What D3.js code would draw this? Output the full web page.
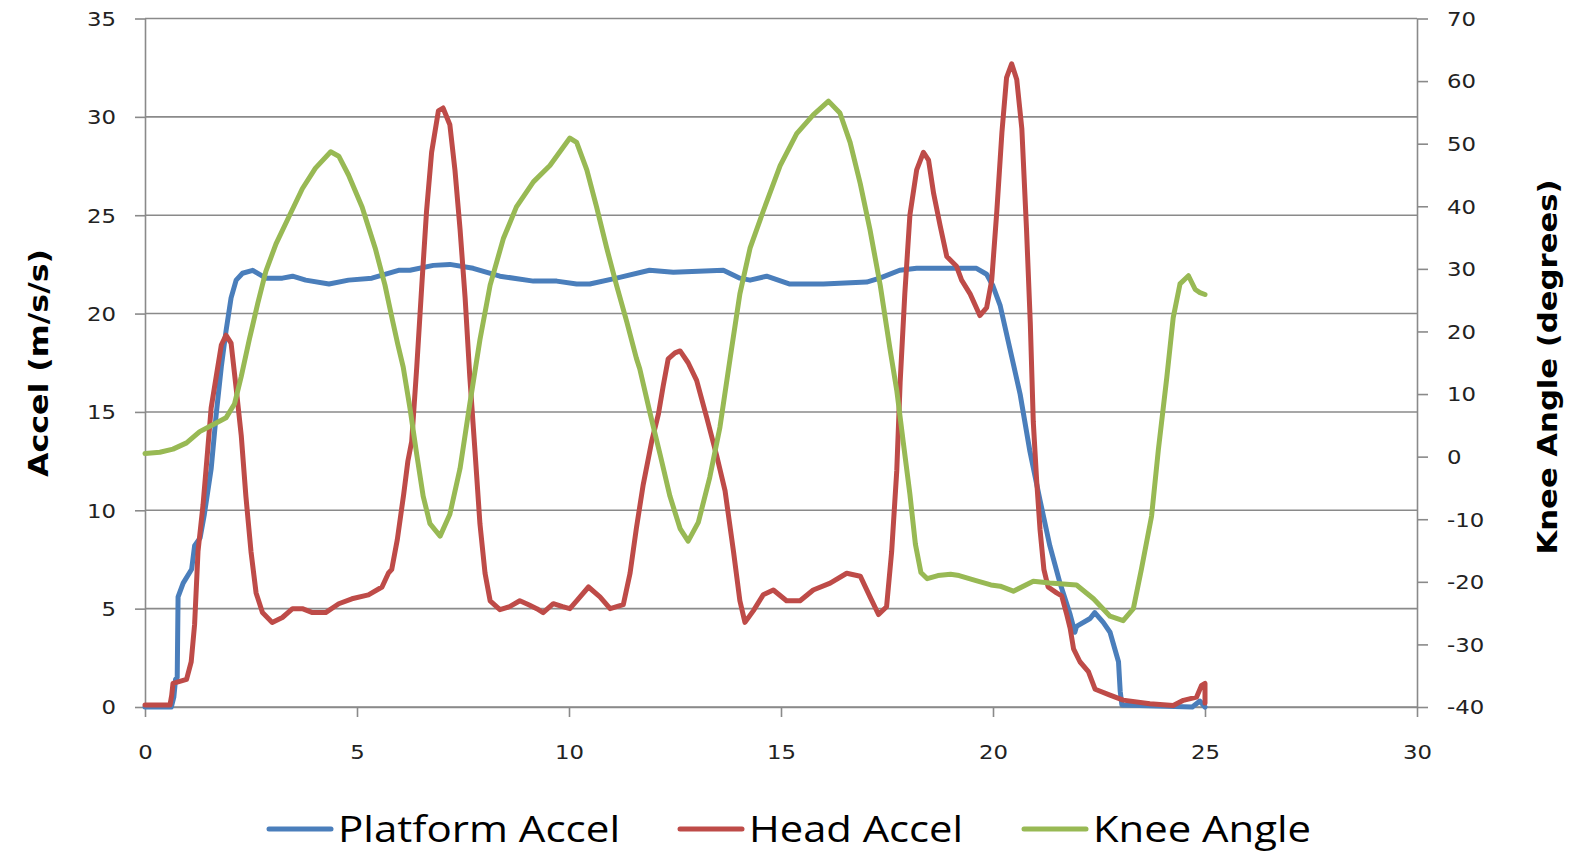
<!DOCTYPE html>
<html><head><meta charset="utf-8">
<script src="https://cdn.jsdelivr.net/npm/d3@7"></script>
<style>
html,body{margin:0;padding:0;background:#fff;}
svg{display:block;}
</style></head>
<body>
<svg id="chart" width="1575" height="852"></svg>
<script>
// ---- DATA ----
const xTicks = [0,5,10,15,20,25,30];
const yLeftTicks = [0,5,10,15,20,25,30,35];
const yRightTicks = [-40,-30,-20,-10,0,10,20,30,40,50,60,70];
const seriesNames = ["Platform Accel","Head Accel","Knee Angle"];
const seriesColors = ["#4A7EBB","#BE4B48","#98B954"];

const platformT = [0,0.62,0.68,0.72,0.76,0.78,0.9,1.1,1.17,1.3,1.4,1.56,1.68,1.8,1.91,2.03,2.15,2.3,2.54,2.85,3.24,3.48,3.79,4.34,4.8,5.35,5.98,6.25,6.8,7.19,7.74,8.37,9.16,9.71,10.18,10.49,11.12,11.9,12.46,13.64,14.03,14.27,14.66,15.21,16.0,17.02,17.33,17.8,18.2,19.14,19.61,19.85,20.0,20.17,20.4,20.64,20.87,21.11,21.34,21.58,21.82,21.93,21.97,22.29,22.4,22.6,22.76,22.96,23.0,23.04,24.7,24.88,25.0];
const platformV = [0,0,0.5,1.4,1.5,5.6,6.3,7.0,8.2,8.6,9.8,12.1,14.9,17.3,19.1,20.8,21.7,22.05,22.2,21.8,21.8,21.9,21.7,21.5,21.7,21.8,22.2,22.2,22.45,22.5,22.3,21.9,21.65,21.65,21.5,21.5,21.8,22.2,22.1,22.2,21.8,21.7,21.9,21.5,21.5,21.6,21.8,22.2,22.3,22.3,22.3,22.0,21.4,20.4,18.2,15.9,13.0,10.5,8.2,6.3,4.7,3.8,4.1,4.5,4.8,4.3,3.8,2.3,0.8,0.1,0,0.3,0];

const headT = [0,0.59,0.63,0.66,0.98,1.09,1.17,1.25,1.37,1.48,1.56,1.68,1.8,1.91,2.03,2.15,2.27,2.38,2.5,2.62,2.77,3.0,3.24,3.48,3.71,3.95,4.26,4.57,4.88,5.27,5.59,5.74,5.82,5.95,6.1,6.2,6.29,6.41,6.53,6.64,6.76,6.92,7.03,7.19,7.31,7.43,7.55,7.66,7.78,7.9,8.02,8.14,8.37,8.6,8.84,9.05,9.24,9.39,9.63,9.85,10.02,10.18,10.46,10.73,10.97,11.28,11.44,11.59,11.75,11.95,12.11,12.22,12.34,12.5,12.62,12.81,13.01,13.25,13.48,13.68,13.88,14.03,14.15,14.35,14.58,14.82,15.13,15.45,15.76,16.16,16.55,16.87,17.1,17.3,17.49,17.61,17.73,17.81,17.92,18.04,18.2,18.36,18.48,18.6,18.75,18.91,19.14,19.26,19.46,19.69,19.85,19.97,20.09,20.21,20.32,20.44,20.56,20.68,20.79,20.88,20.95,21.03,21.11,21.2,21.3,21.5,21.62,21.74,21.82,21.9,22.05,22.25,22.41,22.76,23.07,23.7,24.25,24.49,24.8,24.92,25.0,25.0];
const headV = [0.1,0.1,0.6,1.2,1.4,2.3,4.2,7.9,10.3,13.1,15.2,16.8,18.4,18.9,18.5,16.2,13.8,10.7,7.9,5.8,4.8,4.3,4.55,5.0,5.0,4.8,4.8,5.25,5.5,5.7,6.1,6.8,7.0,8.5,10.8,12.5,13.5,17.3,21.5,25.2,28.2,30.3,30.45,29.6,27.3,24.3,20.8,16.8,13.1,9.3,6.8,5.4,4.95,5.1,5.4,5.2,5.0,4.8,5.25,5.1,5.0,5.4,6.1,5.6,5.0,5.2,6.8,9.1,11.3,13.5,14.9,16.3,17.7,18.0,18.1,17.5,16.6,14.7,12.8,11.0,7.9,5.4,4.3,4.9,5.7,5.95,5.4,5.4,5.95,6.3,6.8,6.65,5.6,4.7,5.1,7.9,12.0,16.5,21.0,25.0,27.3,28.2,27.8,26.1,24.5,22.9,22.4,21.7,21.0,19.9,20.3,21.7,25.2,29.2,32.0,32.7,31.9,29.4,24.3,19.5,14.5,11.5,9.0,7.0,6.1,5.8,5.65,4.7,4.0,2.95,2.3,1.8,0.9,0.6,0.35,0.17,0.08,0.34,0.5,1.1,1.2,0.2];

const kneeT = [0,0.35,0.66,0.98,1.29,1.6,1.91,2.11,2.27,2.46,2.66,2.85,3.09,3.4,3.71,4.02,4.38,4.57,4.8,5.12,5.43,5.66,5.82,5.96,6.09,6.25,6.41,6.56,6.72,6.96,7.19,7.43,7.66,7.9,8.14,8.45,8.76,9.16,9.55,10.02,10.18,10.42,10.65,10.89,11.12,11.36,11.59,11.67,11.91,12.15,12.38,12.62,12.81,13.05,13.32,13.56,13.8,14.03,14.27,14.58,14.98,15.37,15.76,16.12,16.39,16.63,16.87,17.1,17.34,17.57,17.73,17.88,18.04,18.17,18.3,18.45,18.7,19.0,19.2,19.6,19.95,20.17,20.48,20.95,21.34,21.97,22.37,22.76,23.07,23.31,23.5,23.74,23.9,24.1,24.25,24.41,24.61,24.77,24.88,25.0];
const kneeA = [0.5,0.7,1.2,2.2,4.0,5.1,6.2,8.4,12.8,18.7,24.5,29.6,34.0,38.4,42.8,46.1,48.7,48.0,45.0,39.9,33.3,27.4,22.3,18.0,14.3,7.7,0.3,-6.3,-10.7,-12.7,-9.2,-1.9,8.4,18.7,27.4,34.8,39.9,43.9,46.5,50.9,50.2,45.8,39.9,33.3,27.4,21.6,15.7,14.0,7.0,0.3,-6.3,-11.5,-13.5,-10.5,-3.3,4.7,15.7,26.0,33.3,39.2,46.5,51.6,54.6,56.8,54.9,50.2,43.6,36.2,27.4,17.2,10.6,2.5,-6,-14,-18.5,-19.5,-19.0,-18.8,-19.0,-19.8,-20.5,-20.7,-21.5,-19.9,-20.2,-20.5,-22.7,-25.5,-26.2,-24.3,-18,-9.5,1.1,12.7,22.2,27.6,28.9,26.7,26.2,25.9];

// ---- LAYOUT ----
const L = 145, R = 1417, T = 18.5, B = 707;
const svg = d3.select("#chart");
const x = d3.scaleLinear().domain([0,30]).range([L,R]);
const yL = d3.scaleLinear().domain([0,35]).range([B,T]);
const yR = d3.scaleLinear().domain([-40,70]).range([B,T]);
const gridColor = "#8a8a8a";
const labelFont = "'DejaVu Sans', Verdana, sans-serif";
const sx = 1.2;
const fmt = d => String(d);

// gridlines
svg.append("g").selectAll("line").data(yLeftTicks).join("line")
  .attr("x1", L).attr("x2", R).attr("y1", d=>yL(d)).attr("y2", d=>yL(d))
  .attr("stroke", gridColor).attr("stroke-width", 1.6);

function styleAxis(g){
  g.select(".domain").attr("stroke", gridColor).attr("stroke-width", 1.6);
  g.selectAll(".tick line").attr("stroke", gridColor).attr("stroke-width", 1.6);
  g.selectAll("text").attr("font-family", labelFont).attr("font-size", 19).attr("fill", "#222");
}

// left axis
const gL = svg.append("g").attr("transform", `translate(${L},0)`)
  .call(d3.axisLeft(yL).tickValues(yLeftTicks).tickFormat(fmt).tickSize(10).tickSizeOuter(0).tickPadding(0));
styleAxis(gL);
gL.selectAll(".tick text").attr("x", 0).attr("dy", "0.36em").attr("text-anchor","end")
  .attr("transform", `translate(-29,0) scale(${sx},1)`);

// right axis
const gR = svg.append("g").attr("transform", `translate(${R},0)`)
  .call(d3.axisRight(yR).tickValues(yRightTicks).tickFormat(fmt).tickSize(11).tickSizeOuter(0).tickPadding(0));
styleAxis(gR);
gR.selectAll(".tick text").attr("x", 0).attr("dy", "0.36em").attr("text-anchor","start")
  .attr("transform", `translate(30,0) scale(${sx},1)`);

// bottom axis
const gB = svg.append("g").attr("transform", `translate(0,${B})`)
  .call(d3.axisBottom(x).tickValues(xTicks).tickFormat(fmt).tickSize(10).tickSizeOuter(0).tickPadding(0));
styleAxis(gB);
gB.selectAll(".tick text").attr("y", 0).attr("dy", "0.36em").attr("text-anchor","middle")
  .attr("transform", `translate(0,45) scale(${sx},1)`);

// series
const platform = platformT.map((t,i)=>[t, platformV[i]]);
const head = headT.map((t,i)=>[t, headV[i]]);
const knee = kneeT.map((t,i)=>[t, kneeA[i]]);
const lineL = d3.line().x(d=>x(d[0])).y(d=>yL(d[1]));
const lineR = d3.line().x(d=>x(d[0])).y(d=>yR(d[1]));
const seriesPaths = [lineL(platform), lineL(head), lineR(knee)];
svg.append("g").selectAll("path").data(seriesPaths).join("path")
  .attr("d", d=>d).attr("fill","none")
  .attr("stroke", (d,i)=>seriesColors[i]).attr("stroke-width", 5)
  .attr("stroke-linejoin","round").attr("stroke-linecap","round");

// axis titles
svg.append("text").attr("transform", "translate(48,363) rotate(-90)")
  .attr("text-anchor","middle").attr("font-family", labelFont).attr("font-weight","bold")
  .attr("font-size", 27).attr("fill","#000")
  .attr("textLength", 228).attr("lengthAdjust","spacingAndGlyphs")
  .text("Accel (m/s/s)");
svg.append("text").attr("transform", "translate(1557,367) rotate(-90)")
  .attr("text-anchor","middle").attr("font-family", labelFont).attr("font-weight","bold")
  .attr("font-size", 27).attr("fill","#000")
  .attr("textLength", 375).attr("lengthAdjust","spacingAndGlyphs")
  .text("Knee Angle (degrees)");

// legend
const legX = [269, 680, 1024];
const legW = [282, 214, 218];
const lg = svg.append("g").selectAll("g").data(seriesNames).join("g")
  .attr("transform", (d,i)=>`translate(${legX[i]},829)`);
lg.append("line").attr("x1",0).attr("x2",62).attr("y1",0).attr("y2",0)
  .attr("stroke",(d,i)=>seriesColors[i]).attr("stroke-width",5).attr("stroke-linecap","round");
lg.append("text").attr("x", 69).attr("y", 13)
  .attr("font-family","'Open Sans', 'Noto Sans', sans-serif").attr("font-size", 36).attr("fill","#000")
  .attr("textLength",(d,i)=>legW[i]).attr("lengthAdjust","spacingAndGlyphs")
  .text(d=>d);
</script>
</body></html>
